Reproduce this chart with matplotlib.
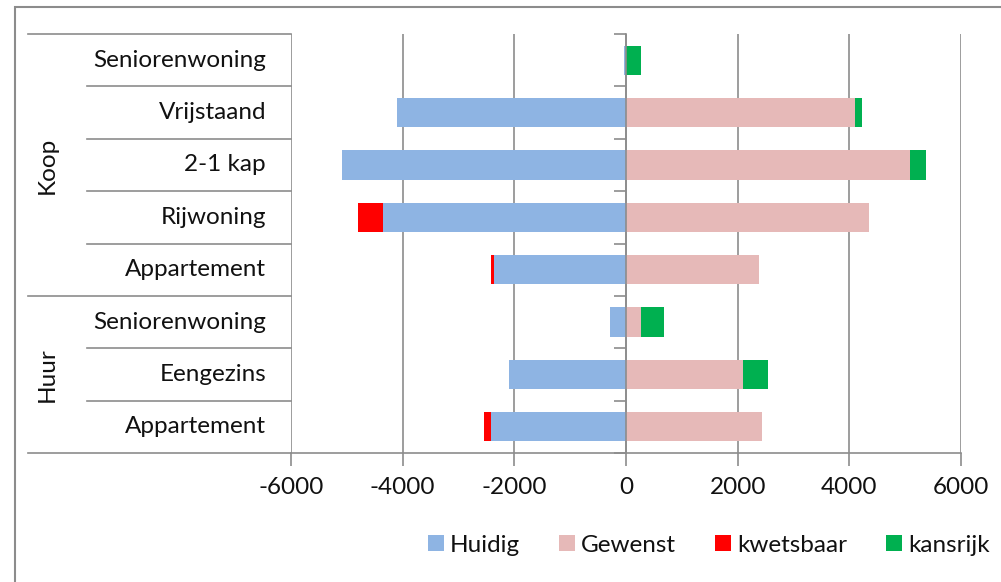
import matplotlib
matplotlib.use('Agg')
import matplotlib.pyplot as plt
import matplotlib.patches as mpatches
import numpy as np

plt.rcParams['font.family'] = ['Lato', 'DejaVu Sans']
plt.rcParams['axes.unicode_minus'] = False

# categorieen van boven naar beneden
groepen = ['Koop', 'Huur']
groep_grootte = [5, 3]
labels = ['Seniorenwoning', 'Vrijstaand', '2-1 kap', 'Rijwoning', 'Appartement',
          'Seniorenwoning', 'Eengezins', 'Appartement']
huidig = [-30, -4110, -5090, -4350, -2370, -280, -2100, -2420]
gewenst = [0, 4110, 5090, 4350, 2380, 265, 2100, 2430]
kwetsbaar = [0, 0, 0, -450, -50, 0, 0, -115]
kansrijk = [265, 120, 280, 0, 0, 410, 440, 0]
series = ['Huidig', 'Gewenst', 'kwetsbaar', 'kansrijk']
kleuren = ['#8EB4E3', '#E6B9B8', '#FF0000', '#00B050']

W, H = 1001, 582
GRIJS = '#8C8C8C'
TEKST = '#111111'
FS = 17.5

fig = plt.figure(figsize=(W / 100, H / 100), dpi=100)
ax = fig.add_axes([291 / W, 1 - 453 / H, 670 / W, (453 - 34) / H])

n = len(labels)
y = np.arange(n)[::-1]
hoogte = 0.56

ax.barh(y, huidig, height=hoogte, color=kleuren[0], label=series[0], zorder=3)
ax.barh(y, gewenst, height=hoogte, color=kleuren[1], label=series[1], zorder=3)
ax.barh(y, kwetsbaar, left=huidig, height=hoogte, color=kleuren[2], label=series[2], zorder=3)
ax.barh(y, kansrijk, left=gewenst, height=hoogte, color=kleuren[3], label=series[3], zorder=3)

ax.set_xlim(-6000, 6000)
ax.set_ylim(-0.5, n - 0.5)
ax.set_xticks(np.arange(-6000, 6001, 2000))
ax.tick_params(axis='x', length=9, width=1.2, color=GRIJS, labelsize=FS, labelcolor=TEKST, pad=8)
ax.grid(axis='x', color=GRIJS, lw=1.2, zorder=0)

# categorie-as op x = 0
for s in ['top', 'right']:
    ax.spines[s].set_visible(False)
ax.spines['left'].set_position(('data', 0))
ax.spines['left'].set_color(GRIJS)
ax.spines['left'].set_linewidth(1.2)
ax.spines['left'].set_zorder(4)
ax.spines['bottom'].set_color(GRIJS)
ax.spines['bottom'].set_linewidth(1.2)
ax.set_yticks(np.arange(-0.5, n, 1.0))
ax.tick_params(axis='y', length=9, width=1.2, color=GRIJS, labelleft=False)

# hierarchische labels links
x_lab = -25 / 670
x_kort = (87 - 291) / 670
x_lang = (28 - 291) / 670
trans = ax.get_yaxis_transform()
for i, lab in enumerate(labels):
    ax.text(x_lab, y[i], lab, transform=trans, ha='right', va='center', fontsize=FS, color=TEKST)
grenzen = np.arange(n + 1) - 0.5
start = 0
lange_grenzen = [n - 0.5]
for g, k in zip(groepen, groep_grootte):
    boven = n - 0.5 - start
    onder = boven - k
    lange_grenzen.append(onder)
    ax.text((47 - 291) / 670, (boven + onder) / 2, g, transform=trans, rotation=90,
            ha='center', va='center', fontsize=FS, color=TEKST)
    start += k
for yy in grenzen:
    x0 = x_lang if yy in lange_grenzen else x_kort
    ax.plot([x0, 0], [yy, yy], transform=trans, color=GRIJS, lw=1.2, clip_on=False)

fig.legend(loc='center', bbox_to_anchor=(709 / W, 1 - 545 / H), ncol=4, frameon=False,
           fontsize=FS, handlelength=0.66, handleheight=0.66, handletextpad=0.25,
           columnspacing=1.6, labelcolor=TEKST)

# rand van het diagram
fig.patches.append(mpatches.Rectangle((15 / W, -0.1), 1.2, 1 - 6.5 / H + 0.1, fill=False,
                                      ec=GRIJS, lw=1.5, transform=fig.transFigure))

fig.savefig('out.png', dpi=100)
